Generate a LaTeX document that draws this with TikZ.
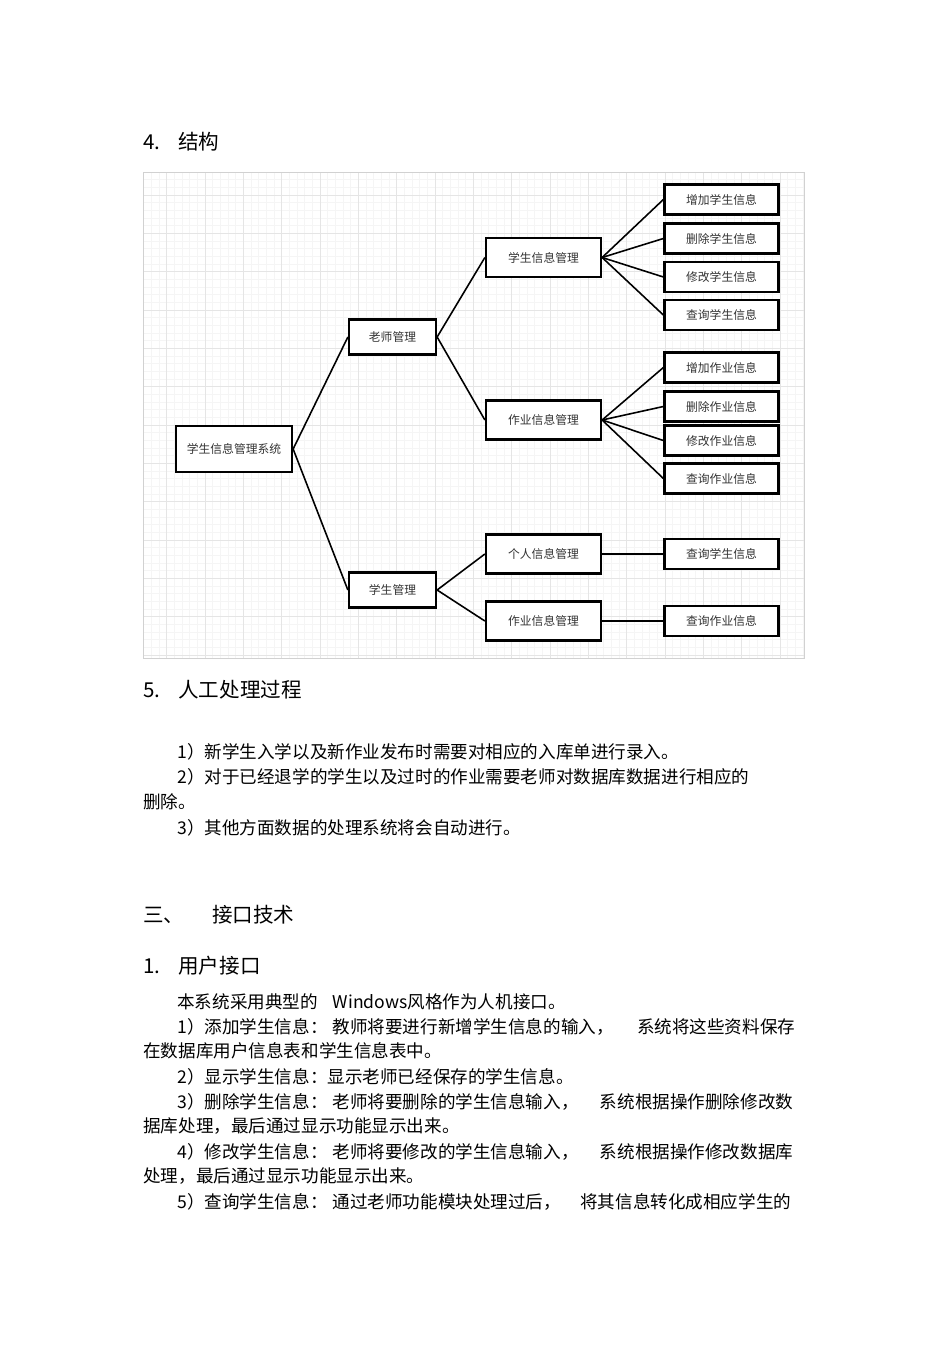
\documentclass[tikz,border=0pt]{standalone}
\usepackage{fontspec}
\setmainfont{Noto Sans CJK SC}
\usetikzlibrary{positioning}

\tikzset{
  gridminor/.style={draw=black!4, line width=0.3pt},
  gridmajor/.style={draw=black!10, line width=0.4pt},
  box/.style={draw, line width=1.3pt, fill=white, inner sep=0pt, text=black!80,
              font=\fontsize{6.7}{8}\selectfont},
  rootbox/.style={box, minimum width=2.32cm, minimum height=0.92cm},
  midbox/.style={box, minimum width=1.74cm, minimum height=0.70cm},
  subbox/.style={box, minimum width=2.30cm, minimum height=0.78cm},
  leafbox/.style={box, minimum width=2.28cm, minimum height=0.60cm},
  link/.style={line width=0.9pt},
  heading/.style={anchor=west, inner sep=0pt, font=\fontsize{11.7}{14}\selectfont},
  body/.style={anchor=west, inner sep=0pt, font=\fontsize{10}{12}\selectfont},
}

\begin{document}
\begin{tikzpicture}[x=0.02cm, y=-0.02cm]

        % --- Pagina ---
        \fill[white] (0,0) rectangle (950,1345);
        \useasboundingbox (0,0) rectangle (950,1345);

        % --- Titolo 4 ---
        \node[heading] (h4) at (143,142) {\makebox[0.7cm][l]{4.}结构};

        % --- Griglia di sfondo ---
        \foreach \i in {0,...,86}
            \draw[gridminor] ({143.67+7.667*\i},172) -- ++(0,486);
        \foreach \j in {0,...,63}
            \draw[gridminor] (143,{172+7.667*\j}) -- ++(661,0);
        \foreach \i in {0,...,16}
            \draw[gridmajor] ({166.67+38.333*\i},172) -- ++(0,486);
        \foreach \j in {0,...,12}
            \draw[gridmajor] (143,{195+38.333*\j}) -- ++(661,0);
        \draw[draw=black!18, line width=0.5pt] (143,172) rectangle (804,658);

        % --- Radice e primo livello ---
        \node[rootbox] (sys) at (234,449) {学生信息管理系统};
        \node[midbox] (teacher) at (392.5,337) {老师管理};
        \node[midbox] (student) at (392.5,590) {学生管理};

        % --- Secondo livello ---
        \node[subbox] (stuinfo) at (543.5,257.5) {学生信息管理};
        \node[subbox] (hwinfo) at (543.5,420) {作业信息管理};
        \node[subbox] (selfinfo) at (543.5,554) {个人信息管理};
        \node[subbox] (hwinfob) at (543.5,621) {作业信息管理};

        % --- Foglie ---
        \foreach \y/\name/\txt in {199.5/addstu/增加学生信息, 238.5/delstu/删除学生信息,
                                   277/modstu/修改学生信息, 315/qrystu/查询学生信息,
                                   367.5/addhw/增加作业信息, 406.5/delhw/删除作业信息,
                                   440.5/modhw/修改作业信息, 478.5/qryhw/查询作业信息,
                                   554/qrystub/查询学生信息, 621/qryhwb/查询作业信息} {
            \node[leafbox] (\name) at (721.5,\y) {\txt};
        }

        % --- Collegamenti ---
        \draw[link] (sys.east) -- (teacher.west);
        \draw[link] (sys.east) -- (student.west);
        \draw[link] (teacher.east) -- (stuinfo.west);
        \draw[link] (teacher.east) -- (hwinfo.west);
        \draw[link] (student.east) -- (selfinfo.west);
        \draw[link] (student.east) -- (hwinfob.west);
        \foreach \name in {addstu, delstu, modstu, qrystu}
            \draw[link] (stuinfo.east) -- (\name.west);
        \foreach \name in {addhw, delhw, modhw, qryhw}
            \draw[link] (hwinfo.east) -- (\name.west);
        \draw[link] (selfinfo.east) -- (qrystub.west);
        \draw[link] (hwinfob.east) -- (qryhwb.west);

        % --- Titolo 5 e testo ---
        \node[heading] (h5) at (143,690) {\makebox[0.7cm][l]{5.}人工处理过程};
        \node[body] (p1) at (177,752) {1）新学生入学以及新作业发布时需要对相应的入库单进行录入。};
        \node[body] (p2) at (177,777) {2）对于已经退学的学生以及过时的作业需要老师对数据库数据进行相应的};
        \node[body] (p2b) at (143,802) {删除。};
        \node[body] (p3) at (177,828) {3）其他方面数据的处理系统将会自动进行。};

        % --- Capitolo tre ---
        \node[heading] (h3) at (143,915) {\makebox[1.38cm][l]{三、}接口技术};
        \node[heading] (h1) at (143,966) {\makebox[0.7cm][l]{1.}用户接口};
        \node[body] (u0) at (177,1002) {本系统采用典型的\hspace{0.3cm}Windows风格作为人机接口。};
        \node[body] (u1) at (177,1027)
            {\makebox[12.36cm][l]{1）添加学生信息：\hspace{0.1cm}教师将要进行新增学生信息的输入，\hfill 系统将这些资料保存}};
        \node[body] (u1b) at (143,1051) {在数据库用户信息表和学生信息表中。};
        \node[body] (u2) at (177,1077) {2）显示学生信息：显示老师已经保存的学生信息。};
        \node[body] (u3) at (177,1102)
            {\makebox[12.32cm][l]{3）删除学生信息：\hspace{0.1cm}老师将要删除的学生信息输入，\hfill 系统根据操作删除修改数}};
        \node[body] (u3b) at (143,1126) {据库处理，最后通过显示功能显示出来。};
        \node[body] (u4) at (177,1152)
            {\makebox[12.32cm][l]{4）修改学生信息：\hspace{0.1cm}老师将要修改的学生信息输入，\hfill 系统根据操作修改数据库}};
        \node[body] (u4b) at (143,1176) {处理，最后通过显示功能显示出来。};
        \node[body] (u5) at (177,1202)
            {\makebox[12.28cm][l]{5）查询学生信息：\hspace{0.1cm}通过老师功能模块处理过后，\hfill 将其信息转化成相应学生的}};

\end{tikzpicture}
\end{document}
